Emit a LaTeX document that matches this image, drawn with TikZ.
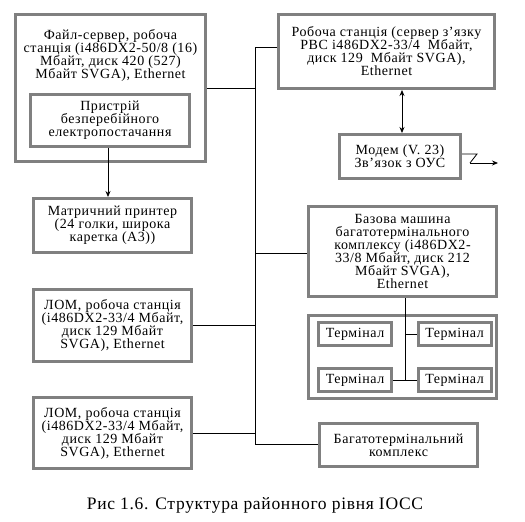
\documentclass[tikz,border=0pt]{standalone}
\usepackage{fontspec}
\setmainfont{Liberation Serif}[LetterSpace=4]
\usetikzlibrary{arrows.meta}
\newcommand\boxfnt{\fontsize{14}{13}\selectfont\lineskiplimit=-20pt\relax}
\begin{document}
\begin{tikzpicture}[x=1pt,y=-1pt,
  box/.style={draw=gray,line width=3pt,fill=white,inner sep=0pt},
  txt/.style={align=center,font=\boxfnt,inner sep=0pt},
  wire/.style={draw=black,line width=0.8pt},
  arr/.style={wire,-{Stealth[length=6pt,width=5pt]}}]
\useasboundingbox (0,0) rectangle (525,522);
% boxes
\node[box,minimum width=190,minimum height=147] (fs) at (110.5,88) {};
\node[txt] (fst) at (110.5,55) {Файл-сервер, робоча\\станція (і486DX2-50/8 (16)\\Мбайт, диск 420 (527)\\Мбайт SVGA), Ethernet};
\node[box,txt,minimum width=159,minimum height=52] (ups) at (110,120.5) {Пристрій\\безперебійного\\електропостачання};
\node[box,txt,minimum width=158,minimum height=54] (pr) at (112.5,225.5) {Матричний принтер\\(24 голки, широка\\каретка (А3))};
\node[box,txt,minimum width=158,minimum height=72] (lom1) at (112.5,325.5) {ЛОМ, робоча станція\\(і486DX2-33/4 Мбайт,\\диск 129 Мбайт\\SVGA), Ethernet};
\node[box,txt,minimum width=158,minimum height=71] (lom2) at (112.5,433) {ЛОМ, робоча станція\\(і486DX2-33/4 Мбайт,\\диск 129 Мбайт\\SVGA), Ethernet};
\node[box,txt,minimum width=216,minimum height=74] (rs) at (386.5,51.5) {Робоча станція (сервер з’язку\\РВС і486DX2-33/4 \ Мбайт,\\диск 129 \ Мбайт SVGA),\\Ethernet};
\node[box,txt,minimum width=121,minimum height=44] (mod) at (400,156.5) {Модем (V. 23)\\Зв’язок з ОУС};
\node[box,txt,minimum width=188,minimum height=90] (base) at (402.5,251.5) {Базова машина\\багатотермінального\\комплексу (і486DX2-\\33/8 Мбайт, диск 212\\Мбайт SVGA),\\Ethernet};
\node[box,minimum width=188,minimum height=83] (tg) at (402.5,357) {};
\node[box,txt,minimum width=73,minimum height=23] (t1) at (355,334) {Термінал};
\node[box,txt,minimum width=73,minimum height=23] (t2) at (454.5,334) {Термінал};
\node[box,txt,minimum width=73,minimum height=23] (t3) at (355,380) {Термінал};
\node[box,txt,minimum width=73,minimum height=23] (t4) at (454.5,380) {Термінал};
\node[box,txt,minimum width=158,minimum height=43] (bk) at (398.5,445) {Багатотермінальний\\комплекс};
\node[txt,font=\fontsize{17.5}{18}\selectfont] (cap) at (255,505) {Рис 1.6. Структура районного рівня ІОСС};
% bus
\coordinate (btop) at (255,47);
\coordinate (bbot) at (255,444);
\draw[wire] (rs.west |- btop) -- (btop) -- (bbot) -- (bk.west |- bbot);
\draw[wire] (fs.east) -- (fs.east -| btop);
\draw[wire] (lom1.east) -- (lom1.east -| btop);
\draw[wire] (lom2.east) -- (lom2.east -| btop);
\draw[wire] (base.west |- 0,253) -- (255,253);
% arrows
\draw[arr] (ups.south -| 108,0) -- (pr.north -| 108,0);
\draw[wire,{Stealth[length=6pt,width=5pt]}-{Stealth[length=6pt,width=5pt]}] (rs.south -| 402,0) -- (mod.north -| 402,0);
\coordinate (z1) at (477,154);
\coordinate (z2) at (470,163);
\coordinate (z3) at (498,163);
\draw[wire] (mod.east |- z1) -- (z1) -- (z2);
\draw[arr] (z2) -- (z3);
% terminals
\coordinate (tv) at (405,380);
\draw[wire] (base.south -| tv) -- (tv);
\draw[wire] (t2.west -| tv) -- (t2.west);
\draw[wire] (t3.east) -- (t4.west);
\end{tikzpicture}
\end{document}
